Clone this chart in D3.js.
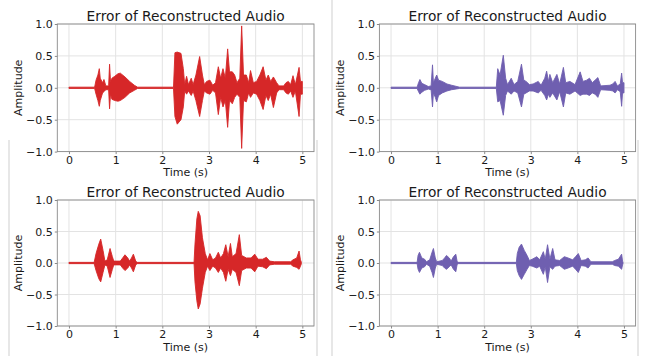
<!DOCTYPE html>
<html>
<head>
<meta charset="utf-8">
<script src="https://cdn.jsdelivr.net/npm/d3@7"></script>
<style>
  body { margin: 0; background: #fff; }
  text { font-family: "DejaVu Sans", sans-serif; fill: #1a1a1a; }
</style>
</head>
<body>
<svg id="chart" width="645" height="356"></svg>
<script>
// ticks
const timeTicks = [0, 1, 2, 3, 4, 5];
const ampTicks = [-1, -0.5, 0, 0.5, 1];
const titleText = "Error of Reconstructed Audio";

// waveform envelopes: [time (s), upper, lower]
const envTopLeft = [
  [0, 0.01, -0.01], [0.55, 0.01, -0.01], [0.58, 0.12, -0.1], [0.62, 0.2, -0.2],
  [0.65, 0.30, -0.29], [0.67, 0.15, -0.2], [0.72, 0.08, -0.08], [0.75, 0.13, -0.06],
  [0.79, 0.03, -0.03], [0.85, 0.03, -0.03], [0.87, 0.37, -0.33], [0.89, 0.1, -0.1],
  [0.92, 0.15, -0.18], [0.98, 0.18, -0.2], [1.05, 0.22, -0.21], [1.1, 0.23, -0.2],
  [1.2, 0.17, -0.15], [1.3, 0.1, -0.08], [1.4, 0.04, -0.04], [1.47, 0.01, -0.01],
  [2.24, 0.01, -0.01], [2.27, 0.55, -0.45], [2.32, 0.56, -0.57], [2.4, 0.54, -0.5],
  [2.45, 0.3, -0.3], [2.48, 0.05, -0.05], [2.52, 0.18, -0.1], [2.56, 0.05, -0.05],
  [2.62, 0.15, -0.12], [2.66, 0.05, -0.05], [2.72, 0.2, -0.2], [2.8, 0.49, -0.45],
  [2.86, 0.2, -0.2], [2.9, 0.05, -0.05], [2.95, 0.1, -0.08], [3.02, 0.12, -0.1],
  [3.08, 0.04, -0.04], [3.14, 0.08, -0.08], [3.2, 0.33, -0.42], [3.25, 0.15, -0.15],
  [3.3, 0.3, -0.3], [3.35, 0.15, -0.2], [3.4, 0.61, -0.62], [3.44, 0.25, -0.2],
  [3.5, 0.25, -0.25], [3.55, 0.2, -0.15], [3.6, 0.08, -0.1], [3.66, 0.15, -0.15],
  [3.7, 0.97, -0.95], [3.74, 0.2, -0.2], [3.8, 0.2, -0.22], [3.85, 0.08, -0.08],
  [3.89, 0.27, -0.15], [3.95, 0.08, -0.08], [4.02, 0.1, -0.1], [4.09, 0.2, -0.2],
  [4.16, 0.33, -0.34], [4.22, 0.12, -0.12], [4.27, 0.2, -0.2], [4.32, 0.1, -0.1],
  [4.38, 0.17, -0.31], [4.45, 0.08, -0.08], [4.5, 0.03, -0.03], [4.6, 0.03, -0.03],
  [4.65, 0.08, -0.08], [4.7, 0.1, -0.1], [4.75, 0.05, -0.05], [4.8, 0.19, -0.15],
  [4.85, 0.05, -0.05], [4.93, 0.32, -0.45], [4.96, 0.1, -0.1], [5.0, 0.1, -0.1]
];

const envTopRight = [
  [0, 0.01, -0.01], [0.56, 0.01, -0.01], [0.59, 0.08, -0.06], [0.62, 0.13, -0.1],
  [0.66, 0.07, -0.07], [0.72, 0.05, -0.04], [0.8, 0.02, -0.02], [0.86, 0.03, -0.03],
  [0.89, 0.36, -0.3], [0.91, 0.08, -0.08], [0.95, 0.15, -0.15], [0.98, 0.2, -0.22],
  [1.02, 0.12, -0.12], [1.1, 0.1, -0.08], [1.2, 0.06, -0.05], [1.3, 0.04, -0.03],
  [1.47, 0.01, -0.01], [2.26, 0.01, -0.01], [2.29, 0.3, -0.22], [2.34, 0.2, -0.2],
  [2.41, 0.51, -0.43], [2.46, 0.15, -0.12], [2.5, 0.05, -0.05], [2.58, 0.15, -0.1],
  [2.64, 0.05, -0.05], [2.72, 0.1, -0.08], [2.8, 0.37, -0.3], [2.85, 0.12, -0.1],
  [2.9, 0.1, -0.08], [2.97, 0.05, -0.05], [3.05, 0.06, -0.05], [3.16, 0.1, -0.08],
  [3.22, 0.04, -0.04], [3.3, 0.15, -0.12], [3.34, 0.26, -0.19], [3.38, 0.1, -0.1],
  [3.41, 0.21, -0.15], [3.47, 0.08, -0.08], [3.56, 0.21, -0.19], [3.62, 0.06, -0.06],
  [3.7, 0.32, -0.3], [3.75, 0.08, -0.08], [3.84, 0.1, -0.1], [3.95, 0.05, -0.05],
  [4.06, 0.25, -0.12], [4.12, 0.1, -0.1], [4.2, 0.12, -0.1], [4.26, 0.15, -0.12],
  [4.32, 0.08, -0.08], [4.38, 0.12, -0.1], [4.44, 0.16, -0.15], [4.5, 0.03, -0.03],
  [4.7, 0.04, -0.04], [4.76, 0.06, -0.05], [4.81, 0.1, -0.08], [4.86, 0.03, -0.03],
  [4.92, 0.06, -0.06], [4.95, 0.23, -0.29], [4.97, 0.08, -0.08], [5.0, 0.08, -0.08]
];

const envBottomLeft = [
  [0, 0.01, -0.01], [0.54, 0.01, -0.01], [0.58, 0.15, -0.12], [0.64, 0.3, -0.25],
  [0.68, 0.38, -0.3], [0.73, 0.2, -0.15], [0.77, 0.03, -0.03], [0.82, 0.05, -0.05],
  [0.88, 0.23, -0.23], [0.93, 0.1, -0.1], [0.96, 0.03, -0.03], [1.1, 0.03, -0.03],
  [1.15, 0.08, -0.08], [1.2, 0.13, -0.12], [1.26, 0.08, -0.08], [1.3, 0.03, -0.03],
  [1.34, 0.08, -0.08], [1.38, 0.14, -0.14], [1.43, 0.03, -0.03], [1.46, 0.01, -0.01],
  [2.68, 0.01, -0.01], [2.7, 0.3, -0.3], [2.74, 0.7, -0.6], [2.77, 0.82, -0.73],
  [2.81, 0.75, -0.65], [2.86, 0.4, -0.4], [2.92, 0.15, -0.15], [2.97, 0.05, -0.05],
  [3.02, 0.15, -0.12], [3.08, 0.05, -0.05], [3.14, 0.08, -0.08], [3.2, 0.17, -0.15],
  [3.25, 0.08, -0.08], [3.31, 0.15, -0.15], [3.36, 0.29, -0.29], [3.41, 0.1, -0.1],
  [3.46, 0.31, -0.2], [3.5, 0.1, -0.1], [3.58, 0.15, -0.15], [3.65, 0.45, -0.36],
  [3.7, 0.12, -0.12], [3.8, 0.08, -0.08], [3.9, 0.08, -0.08], [3.98, 0.14, -0.14],
  [4.05, 0.06, -0.05], [4.15, 0.06, -0.06], [4.23, 0.09, -0.09], [4.3, 0.03, -0.03],
  [4.4, 0.02, -0.02], [4.75, 0.02, -0.02], [4.8, 0.05, -0.05], [4.88, 0.08, -0.07],
  [4.93, 0.19, -0.1], [4.96, 0.05, -0.05], [4.98, 0.01, -0.01]
];

const envBottomRight = [
  [0, 0.01, -0.01], [0.56, 0.01, -0.01], [0.58, 0.12, -0.1], [0.61, 0.17, -0.15],
  [0.66, 0.08, -0.08], [0.72, 0.06, -0.06], [0.76, 0.02, -0.02], [0.83, 0.05, -0.05],
  [0.88, 0.17, -0.15], [0.91, 0.23, -0.23], [0.95, 0.08, -0.08], [0.98, 0.02, -0.02],
  [1.1, 0.04, -0.04], [1.15, 0.08, -0.08], [1.19, 0.12, -0.1], [1.25, 0.08, -0.06],
  [1.29, 0.03, -0.03], [1.34, 0.1, -0.1], [1.39, 0.14, -0.14], [1.42, 0.02, -0.02],
  [1.45, 0.01, -0.01], [2.69, 0.01, -0.01], [2.71, 0.15, -0.12], [2.75, 0.25, -0.2],
  [2.8, 0.3, -0.26], [2.86, 0.2, -0.18], [2.92, 0.12, -0.1], [2.97, 0.04, -0.04],
  [3.03, 0.06, -0.05], [3.13, 0.1, -0.08], [3.19, 0.05, -0.05], [3.27, 0.18, -0.18],
  [3.31, 0.06, -0.06], [3.36, 0.29, -0.31], [3.41, 0.06, -0.06], [3.47, 0.23, -0.1],
  [3.52, 0.05, -0.05], [3.62, 0.04, -0.04], [3.72, 0.1, -0.1], [3.8, 0.08, -0.08],
  [3.9, 0.05, -0.05], [3.96, 0.1, -0.1], [4.02, 0.15, -0.15], [4.08, 0.04, -0.04],
  [4.17, 0.05, -0.05], [4.23, 0.08, -0.08], [4.29, 0.02, -0.02], [4.75, 0.02, -0.02],
  [4.8, 0.04, -0.04], [4.88, 0.06, -0.05], [4.95, 0.14, -0.1], [4.97, 0.03, -0.03],
  [4.98, 0.01, -0.01]
];

const red = "#d62728";
const purple = "#6f5fb0";

const panels = [
  { env: envTopLeft,     color: red,    left: 57.3,  right: 314,   top: 24,  bottom: 151.6 },
  { env: envTopRight,    color: purple, left: 379.4, right: 635.6, top: 24,  bottom: 151.6 },
  { env: envBottomLeft,  color: red,    left: 57.3,  right: 314,   top: 200, bottom: 326 },
  { env: envBottomRight, color: purple, left: 379.4, right: 635.6, top: 200, bottom: 326 }
];

const svg = d3.select("#chart");

// faint frames around the screenshot crops
const frameLines = [
  [9, 140, 9, 356], [317, 140, 317, 356], [332, 0, 332, 356], [638, 140, 638, 356]
];
svg.selectAll("line.frame").data(frameLines).enter().append("line")
  .attr("class", "frame")
  .attr("x1", d => d[0]).attr("y1", d => d[1])
  .attr("x2", d => d[2]).attr("y2", d => d[3])
  .attr("stroke", "#cfcfcf").attr("stroke-width", 1);

const fmt = d3.format(".1f");

panels.forEach(p => {
  const x = d3.scaleLinear().domain([-0.25, 5.25]).range([p.left, p.right]);
  const y = d3.scaleLinear().domain([-1, 1]).range([p.bottom, p.top]);
  const g = svg.append("g");

  // grid
  g.selectAll("line.gx").data(timeTicks).enter().append("line")
    .attr("x1", d => x(d)).attr("x2", d => x(d))
    .attr("y1", p.top).attr("y2", p.bottom)
    .attr("stroke", "#e3e3e3").attr("stroke-width", 1);
  g.selectAll("line.gy").data(ampTicks).enter().append("line")
    .attr("x1", p.left).attr("x2", p.right)
    .attr("y1", d => y(d)).attr("y2", d => y(d))
    .attr("stroke", "#e3e3e3").attr("stroke-width", 1);

  // waveform
  const area = d3.area()
    .x(d => x(d[0]))
    .y0(d => y(d[2]))
    .y1(d => y(d[1]));
  g.append("path")
    .datum(p.env)
    .attr("d", area)
    .attr("fill", p.color)
    .attr("stroke", p.color)
    .attr("stroke-width", 0.9)
    .attr("stroke-linejoin", "round");

  // axes
  const xAxis = g.append("g")
    .attr("transform", `translate(0,${p.bottom})`)
    .call(d3.axisBottom(x).tickValues(timeTicks).tickFormat(d3.format("d"))
      .tickSizeInner(2.5).tickSizeOuter(0).tickPadding(2));
  const yAxis = g.append("g")
    .attr("transform", `translate(${p.left},0)`)
    .call(d3.axisLeft(y).tickValues(ampTicks).tickFormat(fmt)
      .tickSizeInner(2.5).tickSizeOuter(0).tickPadding(2));
  [xAxis, yAxis].forEach(a => {
    a.select(".domain").remove();
    a.selectAll("line").attr("stroke", "#8a8a8a");
    a.selectAll("text").attr("font-size", 11).attr("font-family", "DejaVu Sans").attr("fill", "#1a1a1a");
  });

  // spines
  g.append("rect")
    .attr("x", p.left).attr("y", p.top)
    .attr("width", p.right - p.left).attr("height", p.bottom - p.top)
    .attr("fill", "none").attr("stroke", "#8a8a8a").attr("stroke-width", 0.9);

  // labels
  g.append("text")
    .attr("x", (p.left + p.right) / 2).attr("y", p.top - 3.5)
    .attr("text-anchor", "middle").attr("font-size", 13.75)
    .text(titleText);
  g.append("text")
    .attr("x", (p.left + p.right) / 2).attr("y", p.bottom + 24.5)
    .attr("text-anchor", "middle").attr("font-size", 11)
    .text("Time (s)");
  g.append("text")
    .attr("transform", `translate(${p.left - 35},${(p.top + p.bottom) / 2}) rotate(-90)`)
    .attr("text-anchor", "middle").attr("font-size", 11)
    .text("Amplitude");
});
</script>
</body>
</html>
